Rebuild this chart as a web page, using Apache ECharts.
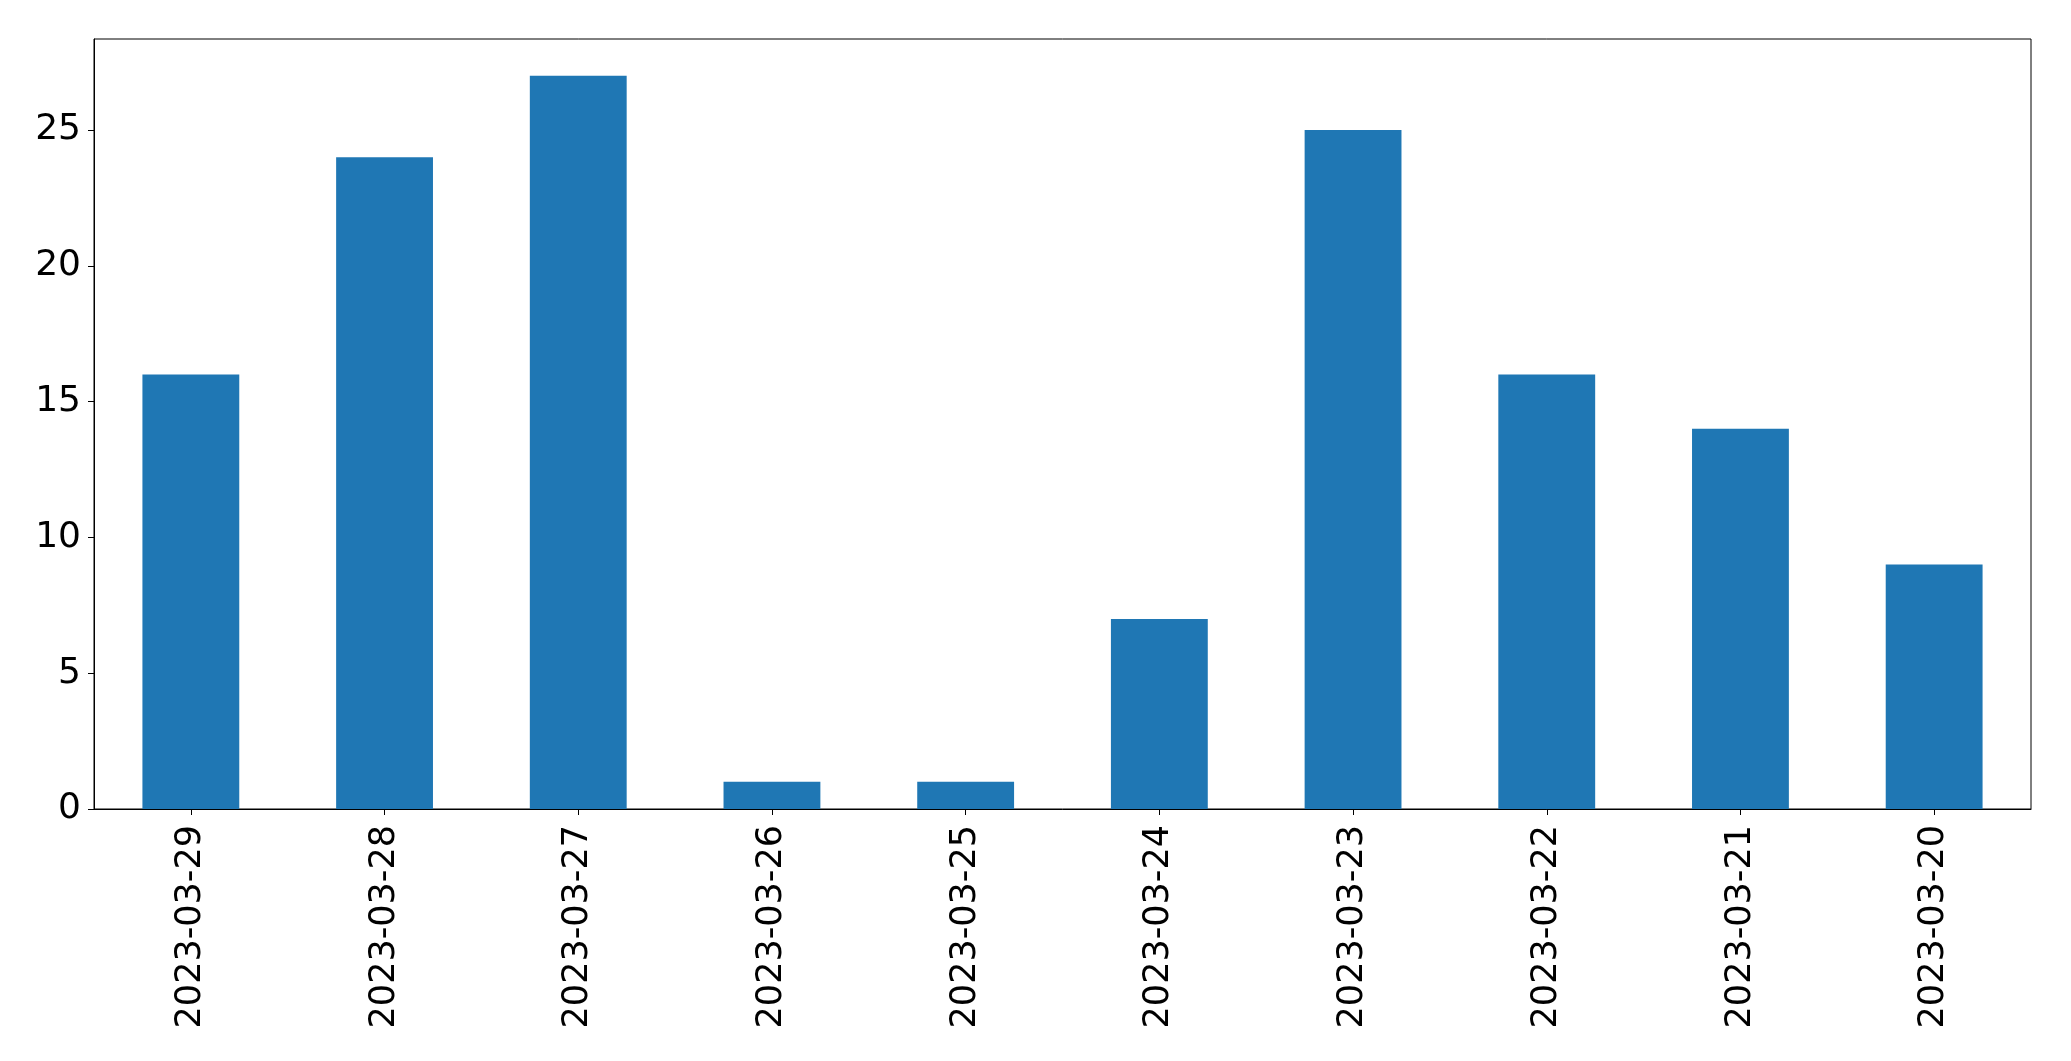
<!DOCTYPE html>
<html>
<head>
<meta charset="utf-8">
<script src="https://cdn.jsdelivr.net/npm/echarts@6/dist/echarts.min.js"></script>
<style>html,body{margin:0;padding:0;background:#fff}#c{width:2071px;height:1061px}</style>
</head>
<body>
<div id="c"></div>
<script>
const categories = ['2023-03-29','2023-03-28','2023-03-27','2023-03-26','2023-03-25','2023-03-24','2023-03-23','2023-03-22','2023-03-21','2023-03-20'];
const values = [16, 24, 27, 1, 1, 7, 25, 16, 14, 9];
const yTicks = [0, 5, 10, 15, 20, 25];
const yMax = 28.35;

const chart = echarts.init(document.getElementById('c'), null, {renderer: 'canvas'});
const font = 'DejaVu Sans';
chart.setOption({
  animation: false,
  grid: {left: 94, right: 40, top: 39, bottom: 252, show: true, borderColor: '#000', borderWidth: 1, backgroundColor: 'transparent'},
  xAxis: {
    type: 'category', data: categories,
    axisLine: {show: true, lineStyle: {color: '#000', width: 1}},
    axisTick: {show: true, alignWithLabel: true, length: 6, lineStyle: {color: '#000', width: 1}},
    axisLabel: {rotate: 90, margin: 16, color: '#000', fontFamily: font, fontSize: 35, interval: 0},
    splitLine: {show: false}
  },
  yAxis: {
    type: 'value', min: 0, max: yMax, interval: 5,
    axisLine: {show: true, lineStyle: {color: '#000', width: 1}},
    axisTick: {show: true, length: 6, customValues: yTicks, lineStyle: {color: '#000', width: 1}},
    axisLabel: {margin: 13, color: '#000', fontFamily: font, fontSize: 36, customValues: yTicks},
    splitLine: {show: false}
  },
  series: [{
    type: 'bar', data: values, barWidth: '50%',
    itemStyle: {color: '#1f77b4'}
  }]
});
</script>
</body>
</html>
